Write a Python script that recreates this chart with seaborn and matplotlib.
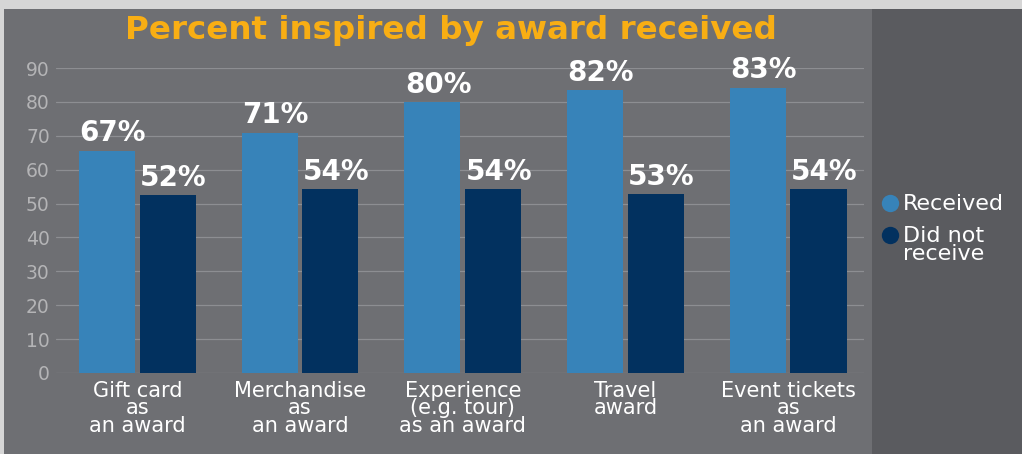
import matplotlib
matplotlib.use("Agg")
import matplotlib.pyplot as plt
import seaborn as sns
import pandas as pd
from matplotlib.patches import Rectangle
from matplotlib.lines import Line2D

categories = ["Gift card\nas\nan award", "Merchandise\nas\nan award",
              "Experience\n(e.g. tour)\nas an award", "Travel\naward",
              "Event tickets\nas\nan award"]
series_names = ["Received", "Did not\nreceive"]
# bar heights as drawn in the picture
received = [65.6, 70.9, 79.9, 83.4, 84.2]
not_received = [52.4, 54.2, 54.2, 52.7, 54.2]
# printed value labels
received_labels = ["67%", "71%", "80%", "82%", "83%"]
not_received_labels = ["52%", "54%", "54%", "53%", "54%"]
y_ticks = [0, 10, 20, 30, 40, 50, 60, 70, 80, 90]
title = "Percent inspired by award received"

c_light = "#3783b9"
c_dark = "#02315f"
bg_outer = "#d6d6d6"
bg_panel = "#6e6f73"
bg_legend = "#5a5b5f"

df = pd.DataFrame({
    "category": categories * 2,
    "group": [series_names[0]] * 5 + [series_names[1]] * 5,
    "value": received + not_received,
})

sns.set_theme(style="white")
plt.rcParams["font.family"] = ["DejaVu Sans"]

W, H = 1022, 454
fig = plt.figure(figsize=(W / 100, H / 100), dpi=100)
fig.patch.set_facecolor(bg_outer)
fig.add_artist(Rectangle((4 / W, 0), (872 - 4) / W, (H - 9) / H,
                         transform=fig.transFigure, facecolor=bg_panel,
                         edgecolor="none", zorder=0))
fig.add_artist(Rectangle((872 / W, 0), (W - 872) / W, (H - 9) / H,
                         transform=fig.transFigure, facecolor=bg_legend,
                         edgecolor="none", zorder=0))

left, right = 56, 864
y0, y90 = 373, 68
ax = fig.add_axes([left / W, (H - y0) / H, (right - left) / W, (y0 - y90) / H])
ax.set_facecolor("none")

sns.barplot(data=df, x="category", y="value", hue="group",
            palette=[c_light, c_dark], width=0.745, gap=0.075,
            saturation=1, ax=ax, legend=False, zorder=3,
            linewidth=0, edgecolor="none")

ax.set_ylim(0, 90)
ax.set_xlim(-0.5, 4.466)
ax.set_yticks(y_ticks)
ax.yaxis.grid(True, color="#8d8e92", linewidth=0.9)
ax.set_axisbelow(True)
for s in ax.spines.values():
    s.set_visible(False)
ax.tick_params(axis="y", length=0, pad=4.5, labelsize=13.5, labelcolor="#b4b4b6")
ax.tick_params(axis="x", length=0, pad=6, labelsize=15, labelcolor="white")
for lab in ax.get_xticklabels():
    lab.set_linespacing(0.82)
ax.set_xlabel("")
ax.set_ylabel("")

for cont, labs in zip(ax.containers, [received_labels, not_received_labels]):
    texts = ax.bar_label(cont, labels=labs, padding=2.5,
                         fontsize=20, fontweight="bold", color="white",
                         clip_on=False)
    for t in texts:
        t.xyann = (4.0, t.xyann[1])

fig.text(451 / W, 1 - 31 / H, title, ha="center", va="center",
         fontsize=23.4, fontweight="bold", color="#f8ae14")

# legend
leg_y = [203, 235]
for c, name, yy in zip((c_light, c_dark), series_names, leg_y):
    fig.add_artist(Line2D([890 / W], [1 - yy / H], transform=fig.transFigure,
                          marker="o", markersize=12.5, markerfacecolor=c,
                          markeredgecolor="none", linestyle="none"))
    fig.text(903 / W, 1 - (yy - 9) / H, name, ha="left", va="top",
             fontsize=16, color="white", linespacing=0.85)

fig.savefig("out.png", dpi=100, facecolor=fig.get_facecolor())
